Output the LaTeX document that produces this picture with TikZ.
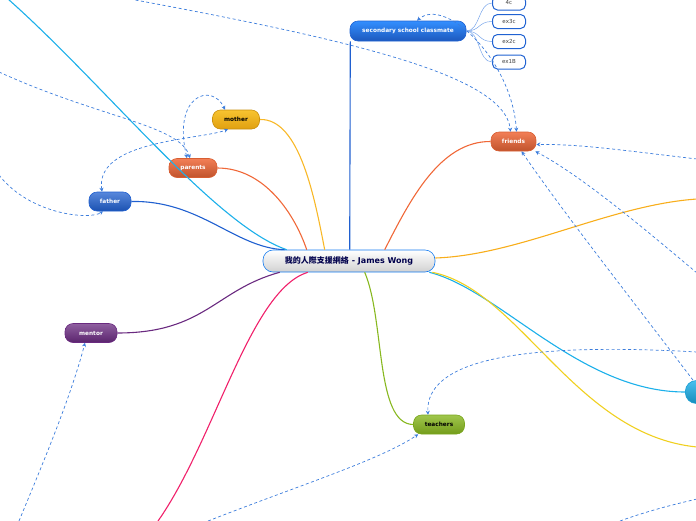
\documentclass[tikz,border=0pt]{standalone}
\usepackage{fontspec}
\setmainfont{DejaVu Sans}
\newfontfamily\cjkfont{Noto Sans CJK TC}
\usetikzlibrary{arrows.meta}

\definecolor{relblue}{HTML}{3C7DDC}
\definecolor{twigblue}{HTML}{7AA6EA}
\definecolor{leafblue}{HTML}{2062D2}
\definecolor{skyline}{HTML}{1CB0EA}
\definecolor{navyline}{HTML}{2060D0}
\definecolor{redline}{HTML}{F06838}
\definecolor{goldline}{HTML}{F8B828}
\definecolor{amberline}{HTML}{F8AE1C}
\definecolor{lemonline}{HTML}{F0D020}
\definecolor{greenline}{HTML}{88B820}
\definecolor{plumline}{HTML}{6A2A80}
\definecolor{pinkline}{HTML}{F0206A}
\definecolor{goldtop}{HTML}{F8C430}
\definecolor{goldbot}{HTML}{E0A010}

\tikzset{
    topic/.style={rounded corners=8pt, minimum height=19pt, inner xsep=6pt, inner ysep=0pt,
        line width=0.6pt, font=\fontsize{5.8}{7}\selectfont\bfseries},
    leaf/.style={rounded corners=5pt, draw=leafblue, line width=1pt, fill=white,
        minimum width=33pt, minimum height=14pt, inner sep=0pt,
        font=\fontsize{5.5}{6}\selectfont, text=black!75},
    branch/.style={line width=1.1pt},
    twig/.style={twigblue, line width=0.5pt},
    rel/.style={relblue, dash pattern=on 3pt off 2.5pt, line width=0.7pt},
    >={Stealth[length=4pt,width=4pt]}
}

\begin{document}
\begin{tikzpicture}[x=1pt,y=-1pt]
    \useasboundingbox (0,0) rectangle (696,520);
    \clip (0,0) rectangle (696,520);
    % The nodes of the map.
        \node[topic, minimum width=172pt, minimum height=22pt, rounded corners=10pt, draw=skyline!70!blue,
            top color=white, bottom color=black!18, text=blue!30!black, font=\fontsize{8}{9}\selectfont\bfseries]
            (me) at (349,261) {{\cjkfont 我的人際支援網絡} - James Wong};
        \node[topic, minimum width=116pt, minimum height=20pt, draw=leafblue, top color=blue!55!cyan!80, bottom color=leafblue!90!black, text=white]
            (classmate) at (408,31) {secondary school classmate};
        \node[leaf] (c4) at (509,3) {4c};
        \node[leaf] (ex3c) at (509,21.5) {ex3c};
        \node[leaf] (ex2c) at (509,41.5) {ex2c};
        \node[leaf] (ex1b) at (509,62) {ex1B};
        \node[topic, minimum width=47pt, draw=goldbot!90!black, top color=goldtop, bottom color=goldbot, text=black]
            (mother) at (236,119.5) {mother};
        \node[topic, minimum width=48pt, draw=redline!90!black, top color=redline!85!white, bottom color=redline!80!black, text=white]
            (parents) at (193,168) {parents};
        \node[topic, minimum width=42pt, draw=navyline, top color=navyline!75!white, bottom color=navyline!85!black, text=white]
            (father) at (110,201.5) {father};
        \node[topic, minimum width=52pt, draw=plumline, top color=plumline!75!white, bottom color=plumline!85!black, text=white]
            (mentor) at (91,333) {mentor};
        \node[topic, minimum width=51pt, draw=greenline!90!black, top color=greenline!80!white, bottom color=greenline!85!black, text=black]
            (teachers) at (439,424.5) {teachers};
        \node[topic, minimum width=45pt, draw=redline!90!black, top color=redline!85!white, bottom color=redline!80!black, text=white]
            (friends) at (513.5,141.5) {friends};
        \node[topic, minimum width=30pt, minimum height=23pt, rounded corners=11pt, anchor=west, draw=skyline!90!black,
            top color=skyline!80!white, bottom color=skyline!80!black] (sib) at (685,392) {};
    % Free ends of the lines that run off the page.
        \coordinate (tl) at (8,-1);
        \coordinate (or) at (697,199);
        \coordinate (yr) at (697,447);
        \coordinate (pk) at (158,521);
        \coordinate (tc) at (130,-1);
        \coordinate (lp) at (-1,72);
        \coordinate (lf) at (-1,175);
        \coordinate (bm) at (19,521);
        \coordinate (bt) at (208,521);
        \coordinate (rt) at (697,352);
        \coordinate (rf) at (697,159);
        \coordinate (rg) at (697,273);
        \coordinate (br) at (620,521);
        \coordinate (bs) at (697,499);
    % The branches out of the middle.
        \draw[branch, skyline] ([xshift=24pt]me.north west) .. controls (215,225) and (105,85) .. (tl);
        \draw[branch, navyline] (father.east) .. controls (200,200) and (235,248) .. ([xshift=22pt]me.north west);
        \draw[branch, redline] (parents.east) .. controls (265,168) and (295,215) .. ([xshift=44pt]me.north west);
        \draw[branch, goldline] (mother.east) .. controls (300,118) and (315,200) .. ([xshift=62pt]me.north west);
        \draw[branch, navyline] ([xshift=0.6pt]classmate.south west) -- ([xshift=87pt]me.north west);
        \draw[branch, redline] ([xshift=122pt]me.north west) .. controls (410,200) and (440,141) .. (friends.west);
        \draw[branch, amberline] ([yshift=3pt]me.east) .. controls (520,255) and (610,205) .. (or);
        \draw[branch, skyline] ([xshift=-6pt]me.south east) .. controls (500,290) and (580,392) .. (sib.west);
        \draw[branch, lemonline] ([xshift=-3pt]me.south east) .. controls (520,290) and (575,435) .. (yr);
        \draw[branch, greenline] ([xshift=102pt]me.south west) .. controls (385,320) and (375,424) .. (teachers.west);
        \draw[branch, plumline] ([xshift=17pt]me.south west) .. controls (215,290) and (205,333) .. (mentor.east);
        \draw[branch, pinkline] ([xshift=45pt]me.south west) .. controls (250,290) and (215,440) .. (pk);
    % The classes under secondary school classmate.
        \foreach \n in {c4,ex3c,ex2c,ex1b}
            \draw[twig] (classmate.east) .. controls +(14,0) and +(-14,0) .. (\n.west);
    % Below are the dashed relationship lines.
        \draw[rel, ->] (tc) .. controls (350,40) and (505,75) .. ([xshift=-3pt]friends.north);
        \draw[rel, <->] ([xshift=3pt]friends.north) .. controls (512,60) and (445,-4) .. ([xshift=9pt]classmate.north);
        \draw[rel, <->] ([xshift=-6pt]parents.north) .. controls (172,95) and (212,82) .. ([xshift=-11pt]mother.north);
        \draw[rel, <->] ([xshift=-8pt]father.north) .. controls (95,140) and (200,140) .. ([xshift=-8pt]mother.south);
        \draw[rel, ->] (lp) .. controls (100,118) and (180,125) .. ([xshift=-3pt]parents.north);
        \draw[rel, ->] (lf) .. controls (30,215) and (90,220) .. ([xshift=-7pt]father.south);
        \draw[rel, ->] (bm) .. controls (40,470) and (70,400) .. ([xshift=-6pt]mentor.south);
        \draw[rel, ->] (bt) .. controls (300,485) and (380,460) .. ([xshift=5pt]teachers.south west);
        \draw[rel, ->] (rt) .. controls (520,342) and (425,360) .. ([xshift=-11pt]teachers.north);
        \draw[rel, ->] (rf) .. controls (620,150) and (580,144) .. ([yshift=-3pt]friends.east);
        \draw[rel, ->] (rg) .. controls (640,225) and (580,175) .. ([xshift=-1pt]friends.south east);
        \draw[rel, ->] ([xshift=8pt]sib.north west) .. controls (640,310) and (565,215) .. ([xshift=8pt]friends.south);
        \draw[rel] (br) .. controls (650,510) and (680,503) .. (bs);
\end{tikzpicture}
\end{document}
